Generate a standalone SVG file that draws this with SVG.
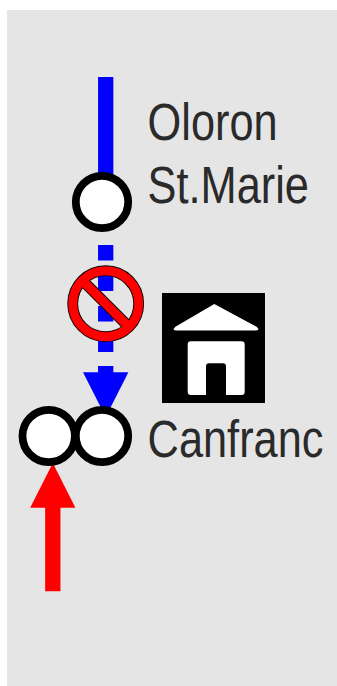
<svg xmlns="http://www.w3.org/2000/svg" width="337" height="686" viewBox="0 0 337 686">
<style>
.st{fill:#fff;stroke:#000;stroke-width:7.8}
.lb{font-family:"Liberation Sans",Arial,sans-serif;font-size:51px;fill:#2a2a2a}
</style>
<rect width="337" height="686" fill="#fff"/>
<rect x="7" y="10" width="330" height="676" fill="#e5e5e5"/>
<g id="connectors">
<path d="M105.7 77V180" stroke="#00f" stroke-width="15.3" fill="none"/>
<path d="M105.7 245V366" stroke="#00f" stroke-width="15.3" stroke-dasharray="15.5 15" fill="none"/>
<path d="M105.7 366V380" stroke="#00f" stroke-width="15.3" fill="none"/>
<polygon points="83,372.3 128.4,372.3 105.7,417" fill="#00f"/>
<path d="M52.8 591.3V500" stroke="#f00" stroke-width="15.3" fill="none"/>
<polygon points="30.2,507.7 75.4,507.7 52.8,463" fill="#f00"/>
</g>
<g id="oloron">
<circle class="st" cx="102" cy="202" r="26.2"/>
<text class="lb" transform="translate(147.6 139.7) scale(.85 1)">Oloron</text>
<text class="lb" transform="translate(147.6 203) scale(.85 1)">St.Marie</text>
</g>
<g id="canfranc">
<circle class="st" cx="48.7" cy="436" r="26.2"/>
<circle class="st" cx="102" cy="436" r="26.2"/>
<text class="lb" transform="translate(147.6 457.3) scale(.85 1)">Canfranc</text>
</g>
<g id="closed">
<circle cx="105.7" cy="303.7" r="33" fill="none" stroke="#000" stroke-width="10.8"/>
<path d="M82.4 280.4L129 327" stroke="#000" stroke-width="11" fill="none"/>
<circle cx="105.7" cy="303.7" r="33" fill="none" stroke="#f00" stroke-width="9"/>
<path d="M82.4 280.4L129 327" stroke="#f00" stroke-width="9.2" fill="none"/>
</g>
<g id="station-icon">
<rect x="162" y="293" width="103" height="110" fill="#000"/>
<path d="M214.3 304.5L257 327.5Q259 330 256.5 330H175.5Q173 330 175 327.5Z" fill="#fff" stroke="#fff" stroke-linejoin="round"/>
<path d="M191 341.3H241.5Q244.7 341.3 244.7 344.5V391.8Q244.7 395 241.5 395H226V366.3Q226 363.3 223 363.3H209Q206 363.3 206 366.3V395H191Q187.7 395 187.7 391.8V344.5Q187.7 341.3 191 341.3Z" fill="#fff"/>
</g>
</svg>
